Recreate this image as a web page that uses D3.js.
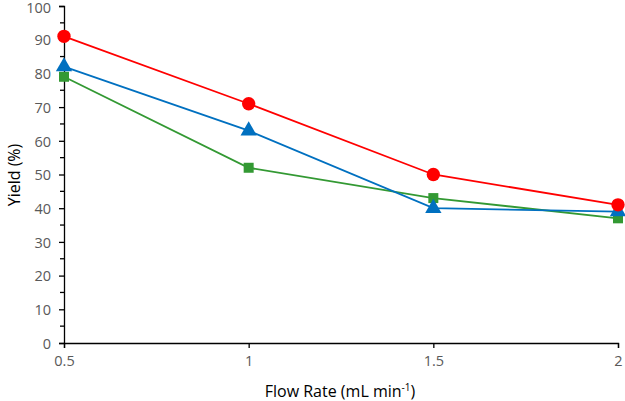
<!DOCTYPE html>
<html><head><meta charset="utf-8">
<script src="https://cdn.jsdelivr.net/npm/d3@7"></script>
<style>body{margin:0;background:#fff}</style>
</head><body>
<svg id="c" width="625" height="401"></svg>
<script>
const flowRates = [0.5, 1, 1.5, 2];
const redYield = [91, 71, 50, 41];
const blueYield = [82, 63, 40, 39];
const greenYield = [79, 52, 43, 37];
const xTicks = [0.5, 1, 1.5, 2];
const yTicks = [0,10,20,30,40,50,60,70,80,90,100];

const svg = d3.select('#c');
const x = d3.scaleLinear().domain([0.5, 2]).range([64, 618]);
const y = d3.scaleLinear().domain([0, 100]).range([343, 6]);
const font = "'Open Sans', sans-serif";

// y axis
const ya = svg.append('g').attr('transform','translate(64,0)')
  .call(d3.axisLeft(y).tickValues(yTicks).tickSize(5).tickPadding(8).tickFormat(d3.format('d')));
ya.select('.domain').attr('stroke','#000').attr('stroke-width',1.3);
ya.selectAll('.tick line').attr('stroke','#000').attr('stroke-width',1.3);
ya.selectAll('.tick text').attr('fill','#595959').style('font-family',font).style('font-size','14.5px')
  .attr('dy', d => d === 100 ? '0.48em' : '0.36em');
// minor ticks
const minor = d3.range(5, 100, 10);
svg.append('g').selectAll('line').data(minor).join('line')
  .attr('x1',60).attr('x2',64).attr('y1',d=>y(d)).attr('y2',d=>y(d))
  .attr('stroke','#000').attr('stroke-width',1.3);

// x axis
const xa = svg.append('g').attr('transform','translate(0,343)')
  .call(d3.axisBottom(x).tickValues(xTicks).tickSize(5).tickPadding(8).tickFormat(d=>String(d)));
xa.select('.domain').attr('stroke','#000').attr('stroke-width',1.3);
xa.selectAll('.tick line').attr('stroke','#000').attr('stroke-width',1.3);
xa.selectAll('.tick text').attr('fill','#595959').style('font-family',font).style('font-size','14.5px');

// titles
svg.append('text').attr('x',340).attr('y',397).attr('text-anchor','middle')
  .style('font-family',font).style('font-size','16px').attr('fill','#000')
  .html('Flow Rate (mL min<tspan dy="-6" font-size="10px">-1</tspan><tspan dy="6">)</tspan>');
svg.append('text').attr('transform','translate(20,175) rotate(-90)').attr('text-anchor','middle')
  .style('font-family',font).style('font-size','16px').attr('fill','#000').text('Yield (%)');

const line = d3.line().x((d,i)=>x(flowRates[i])).y(d=>y(d));
const series = [
  {vals: greenYield, color:'#339933', sym: d3.symbolSquare, size: 100},
  {vals: blueYield, color:'#0070C0', sym: d3.symbolTriangle, size: 115},
  {vals: redYield, color:'#FF0000', sym: d3.symbolCircle, size: 140},
];
series.forEach(s=>{
  svg.append('path').datum(s.vals).attr('d',line).attr('fill','none')
    .attr('stroke',s.color).attr('stroke-width',1.8);
});
series.forEach(s=>{
  svg.append('g').selectAll('path').data(s.vals).join('path')
    .attr('transform',(d,i)=>`translate(${x(flowRates[i])},${y(d)})`)
    .attr('d',d3.symbol().type(s.sym).size(s.size)).attr('fill',s.color);
});
</script>
</body></html>
